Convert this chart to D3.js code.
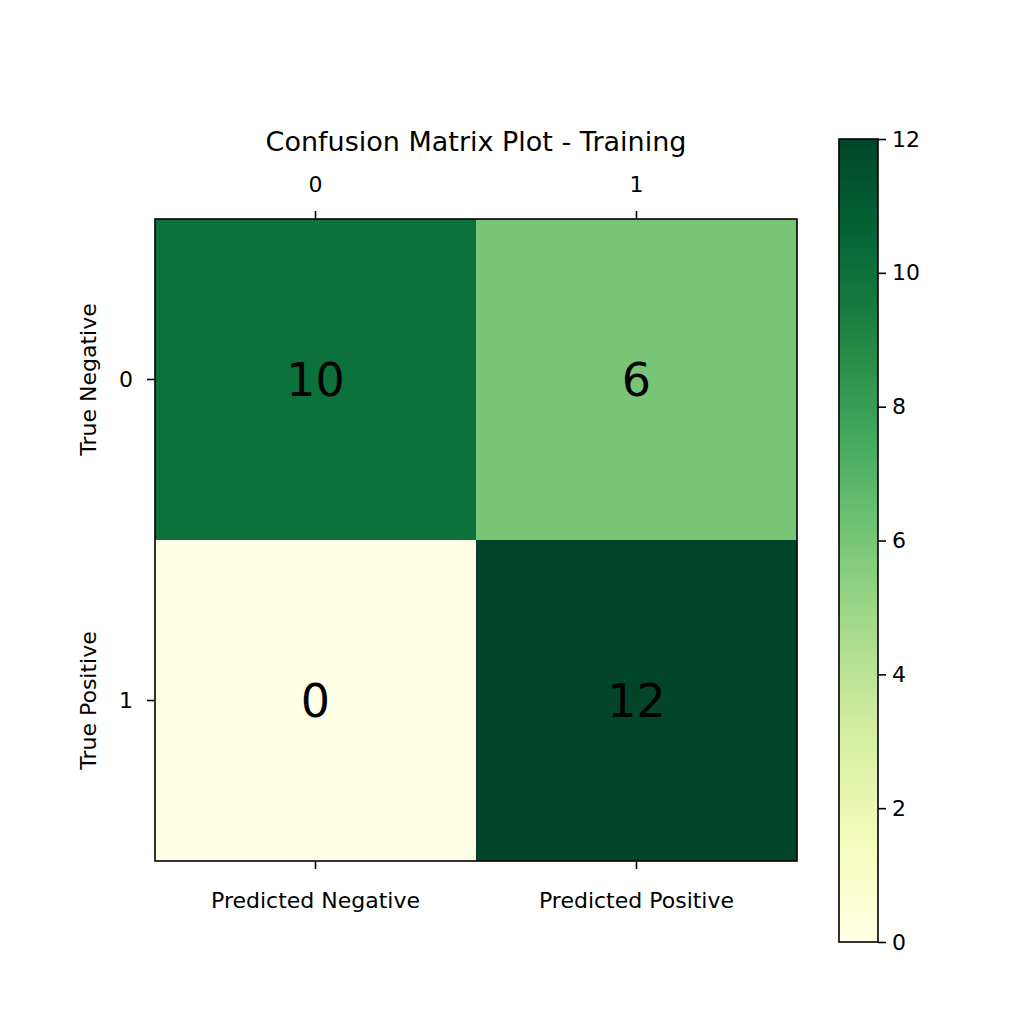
<!DOCTYPE html>
<html>
<head>
<meta charset="utf-8">
<script src="https://cdn.jsdelivr.net/npm/d3@7"></script>
<style>
  body { margin: 0; background: #fff; }
  text { font-family: "DejaVu Sans", sans-serif; fill: #000; }
</style>
</head>
<body>
<svg id="chart" width="1036" height="1036"></svg>
<script>
// data
const colLabels = ["Predicted Negative", "Predicted Positive"];
const rowLabels = ["True Negative", "True Positive"];
const tickIdx = ["0", "1"];
const matrix = [[10, 6], [0, 12]];
const cbarTicks = [0, 2, 4, 6, 8, 10, 12];

const svg = d3.select("#chart");
const plotLeft = 155, plotTop = 219, size = 642;

const x = d3.scaleBand().domain([0, 1]).range([plotLeft, plotLeft + size]);
const y = d3.scaleBand().domain([0, 1]).range([plotTop, plotTop + size]);
const color = d3.scaleSequential(d3.interpolateYlGn).domain([0, 12]);

const cells = [];
matrix.forEach((row, r) => row.forEach((v, c) => cells.push({r, c, v})));

svg.append("g").selectAll("rect").data(cells).join("rect")
  .attr("x", d => x(d.c)).attr("y", d => y(d.r))
  .attr("width", x.bandwidth()).attr("height", y.bandwidth())
  .attr("fill", d => color(d.v));

svg.append("g").selectAll("text").data(cells).join("text")
  .attr("x", d => x(d.c) + x.bandwidth() / 2)
  .attr("y", d => y(d.r) + y.bandwidth() / 2)
  .attr("text-anchor", "middle").attr("dy", "0.36em")
  .style("font-size", "46px")
  .text(d => d.v);

svg.append("rect").attr("x", plotLeft).attr("y", plotTop).attr("width", size).attr("height", size)
  .attr("fill", "none").attr("stroke", "#000").attr("stroke-width", 1.6);

// ticks
const xc = d => x(d) + x.bandwidth() / 2, yc = d => y(d) + y.bandwidth() / 2;
[0, 1].forEach(i => {
  svg.append("line").attr("x1", xc(i)).attr("x2", xc(i)).attr("y1", plotTop).attr("y2", plotTop - 8).attr("stroke", "#000").attr("stroke-width", 1.6);
  svg.append("text").attr("x", xc(i)).attr("y", 192).attr("text-anchor", "middle").style("font-size", "22px").text(tickIdx[i]);
  svg.append("line").attr("x1", xc(i)).attr("x2", xc(i)).attr("y1", plotTop + size).attr("y2", plotTop + size + 8).attr("stroke", "#000").attr("stroke-width", 1.6);
  svg.append("text").attr("x", xc(i)).attr("y", 908).attr("text-anchor", "middle").style("font-size", "22px").text(colLabels[i]);
  svg.append("line").attr("x1", plotLeft).attr("x2", plotLeft - 8).attr("y1", yc(i)).attr("y2", yc(i)).attr("stroke", "#000").attr("stroke-width", 1.6);
  svg.append("text").attr("x", 133).attr("y", yc(i)).attr("dy", "0.36em").attr("text-anchor", "end").style("font-size", "22px").text(tickIdx[i]);
  svg.append("text").attr("transform", `translate(96,${yc(i)}) rotate(-90)`).attr("text-anchor", "middle").style("font-size", "22px").text(rowLabels[i]);
});

svg.append("text").attr("x", plotLeft + size / 2).attr("y", 151).attr("text-anchor", "middle")
  .style("font-size", "27px").text("Confusion Matrix Plot - Training");

// colorbar
const cbX = 839, cbW = 39, cbTop = 139, cbBot = 942;
const cy = d3.scaleLinear().domain([0, 12]).range([cbBot, cbTop]);
const grad = svg.append("defs").append("linearGradient").attr("id", "g")
  .attr("x1", 0).attr("y1", 1).attr("x2", 0).attr("y2", 0);
d3.range(0, 1.001, 0.05).forEach(t => grad.append("stop").attr("offset", t).attr("stop-color", d3.interpolateYlGn(t)));
svg.append("rect").attr("x", cbX).attr("y", cbTop).attr("width", cbW).attr("height", cbBot - cbTop)
  .attr("fill", "url(#g)").attr("stroke", "#000").attr("stroke-width", 1.6);
const ax = svg.append("g").attr("transform", `translate(${cbX + cbW},0)`)
  .call(d3.axisRight(cy).tickValues(cbarTicks).tickSize(8).tickPadding(6));
ax.select(".domain").remove();
ax.selectAll("line").attr("stroke-width", 1.6);
ax.selectAll("text").style("font-size", "22px").style("font-family", "DejaVu Sans");
</script>
</body>
</html>
